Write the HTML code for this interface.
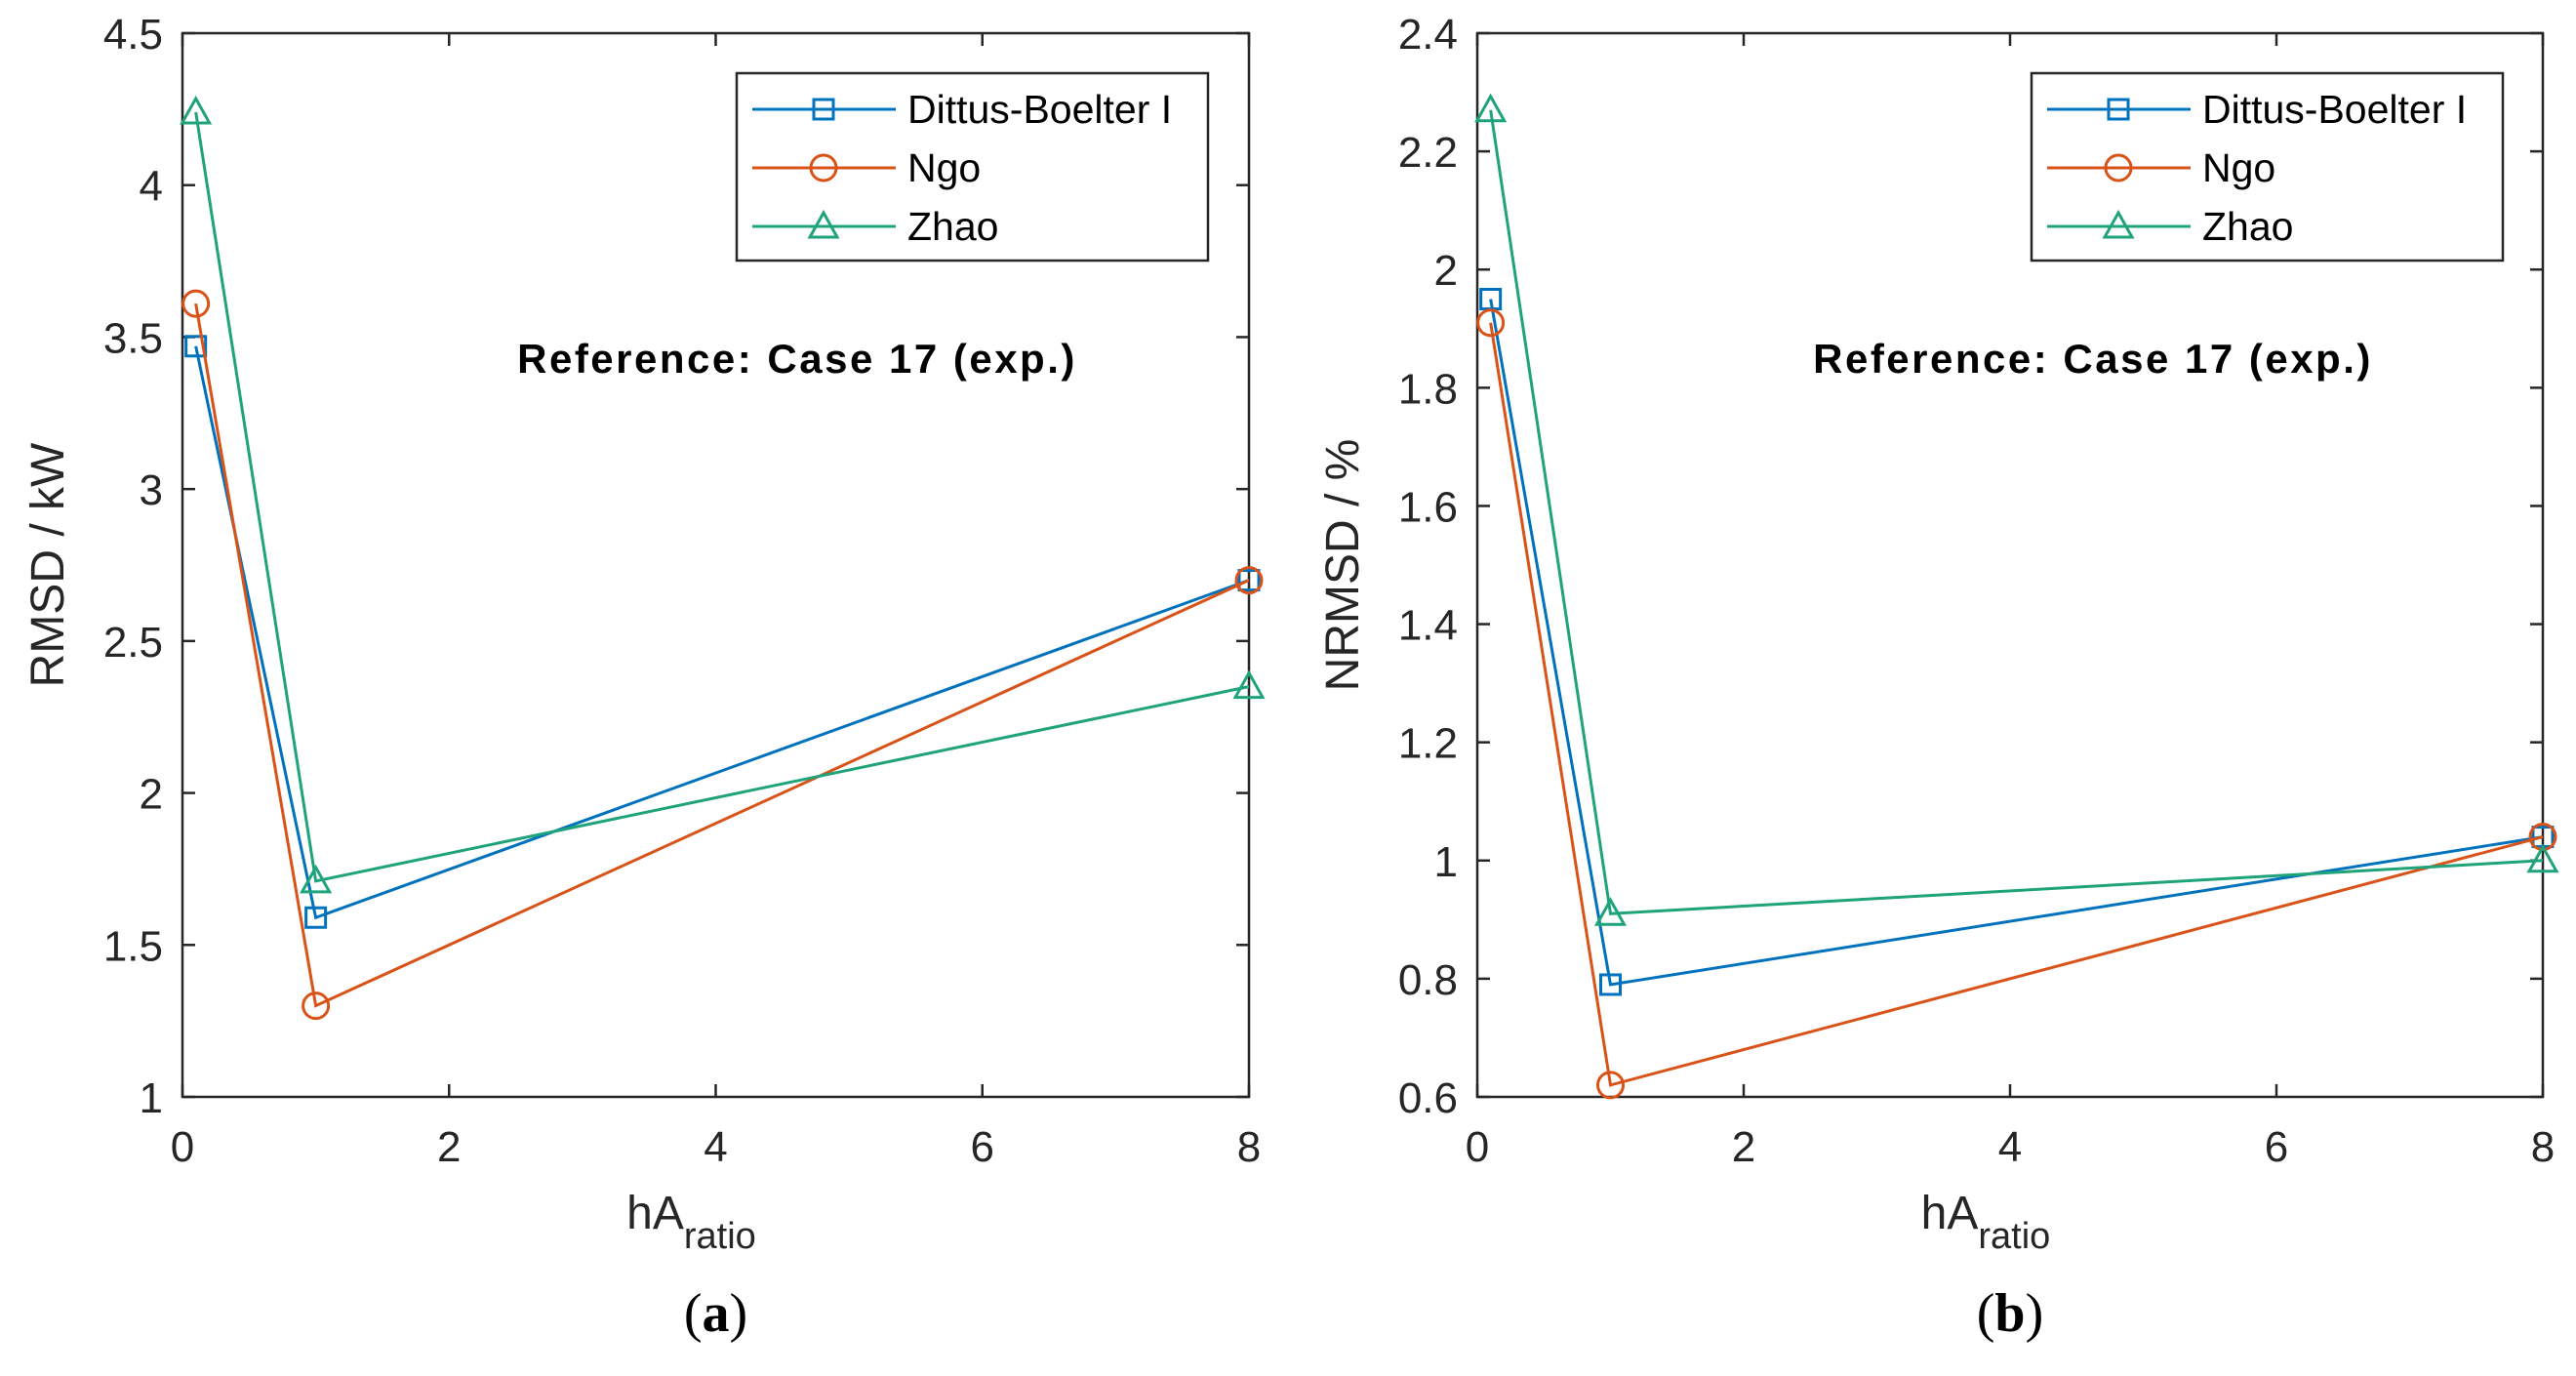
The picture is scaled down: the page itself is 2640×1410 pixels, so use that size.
<!DOCTYPE html>
<html><head><meta charset="utf-8"><style>
body{margin:0;background:#fff;}
svg{display:block;font-family:"Liberation Sans",sans-serif;}
</style></head><body>
<svg id="chart" width="2640" height="1410" viewBox="0 0 2640 1410" xmlns="http://www.w3.org/2000/svg"></svg>
<script>
const xVals=[0.1,1,8];
const xTicks=[0,2,4,6,8];
const seriesNames=["Dittus-Boelter I","Ngo","Zhao"];
const aDittus=[3.47,1.59,2.70];
const aNgo=[3.61,1.30,2.70];
const aZhao=[4.24,1.71,2.35];
const aTicks=[1,1.5,2,2.5,3,3.5,4,4.5];
const bDittus=[1.95,0.79,1.04];
const bNgo=[1.91,0.62,1.04];
const bZhao=[2.27,0.91,1.00];
const bTicks=[0.6,0.8,1,1.2,1.4,1.6,1.8,2,2.2,2.4];

const NS="http://www.w3.org/2000/svg";
const svg=document.getElementById('chart');
const colors=["#0072BD","#D95319","#1FA37A"];
const markers=["square","circle","triangle"];
function mk(tag,attrs,parent){const e=document.createElementNS(NS,tag);for(const k in attrs)e.setAttribute(k,attrs[k]);(parent||svg).appendChild(e);return e;}
function marker(g,type,x,y,c){
  let e;
  if(type==="square") e=mk('rect',{x:x-10,y:y-10,width:20,height:20,fill:'none',stroke:c,'stroke-width':3},g);
  else if(type==="circle") e=mk('circle',{cx:x,cy:y,r:13,fill:'none',stroke:c,'stroke-width':3},g);
  else e=mk('polygon',{points:`${x},${y-14} ${x-14},${y+11} ${x+14},${y+11}`,fill:'none',stroke:c,'stroke-width':3},g);
  return e;
}
function panel(id,x0,x1,y0,y1,ymin,ymax,yTicks,series,ylabel,legX,textX,caption){
  const g=mk('g',{});
  
  
  const sx=v=>x0+(v-0)/(8-0)*(x1-x0);
  const sy=v=>y1-(v-ymin)/(ymax-ymin)*(y1-y0);
  const box=mk('rect',{x:x0,y:y0,width:x1-x0,height:y1-y0,fill:'#fff',stroke:'#262626','stroke-width':2.5},g);
  
  
  xTicks.forEach(t=>{
    const X=sx(t);
    mk('line',{x1:X,y1:y1,x2:X,y2:y1-13,stroke:'#262626','stroke-width':2.5},g);
    mk('line',{x1:X,y1:y0,x2:X,y2:y0+13,stroke:'#262626','stroke-width':2.5},g);
    const tx=mk('text',{x:X,y:y1+66,'text-anchor':'middle','font-size':44,fill:'#262626'},g);
    tx.textContent=t;
    
    
  });
  yTicks.forEach(t=>{
    const Y=sy(t);
    mk('line',{x1:x0,y1:Y,x2:x0+13,y2:Y,stroke:'#262626','stroke-width':2.5},g);
    mk('line',{x1:x1,y1:Y,x2:x1-13,y2:Y,stroke:'#262626','stroke-width':2.5},g);
    const tx=mk('text',{x:x0-20,y:Y+16,'text-anchor':'end','font-size':44,fill:'#262626'},g);
    tx.textContent=t;
    
    
  });
  series.forEach((vals,i)=>{
    const pts=vals.map((v,j)=>sx(xVals[j])+','+sy(v)).join(' ');
    const pl=mk('polyline',{points:pts,fill:'none',stroke:colors[i],'stroke-width':3},g);
    
    
    vals.forEach((v,j)=>{
      const m=marker(g,markers[i],sx(xVals[j]),sy(v),colors[i]);
      
      
    });
  });
  const lg=mk('g',{},g);
  
  
  mk('rect',{x:legX,y:75,width:483,height:192,fill:'#fff',stroke:'#262626','stroke-width':2.5},lg);
  seriesNames.forEach((n,i)=>{
    const Y=112+i*60;
    mk('line',{x1:legX+16,y1:Y,x2:legX+163,y2:Y,stroke:colors[i],'stroke-width':3},lg);
    marker(lg,markers[i],legX+89,Y,colors[i]);
    const t=mk('text',{x:legX+175,y:Y+14,'font-size':41,fill:'#000'},lg);
    t.textContent=n;
    
    
  });
  const ref=mk('text',{x:textX,y:382,'text-anchor':'middle','font-size':42,'font-weight':'bold',fill:'#000','letter-spacing':2.5},g);
  ref.textContent='Reference:  Case 17  (exp.)';
  
  
  const yl=mk('text',{x:0,y:0,'text-anchor':'middle','font-size':48,fill:'#262626',transform:`translate(${x0-122},${(y0+y1)/2}) rotate(-90)`},g);
  yl.textContent=ylabel;
  
  
  const xl=mk('text',{x:(x0+x1)/2-25,y:y1+135,'text-anchor':'middle','font-size':48,fill:'#262626'},g);
  xl.innerHTML='hA<tspan font-size="38" dy="20">ratio</tspan>';
  
  
  const cp=mk('text',{x:(x0+x1)/2,y:1364,'text-anchor':'middle','font-size':56,fill:'#000','font-family':'"Liberation Serif",serif'},g);
  cp.innerHTML='(<tspan font-weight="bold">'+caption+'</tspan>)';
  
  
}
panel('panel-a',187,1280,34,1124,1,4.5,aTicks,[aDittus,aNgo,aZhao],'RMSD / kW',755,817,'a');
panel('panel-b',1514,2606,34,1124,0.6,2.4,bTicks,[bDittus,bNgo,bZhao],'NRMSD / %',2082,2145,'b');
</script>
</body></html>
